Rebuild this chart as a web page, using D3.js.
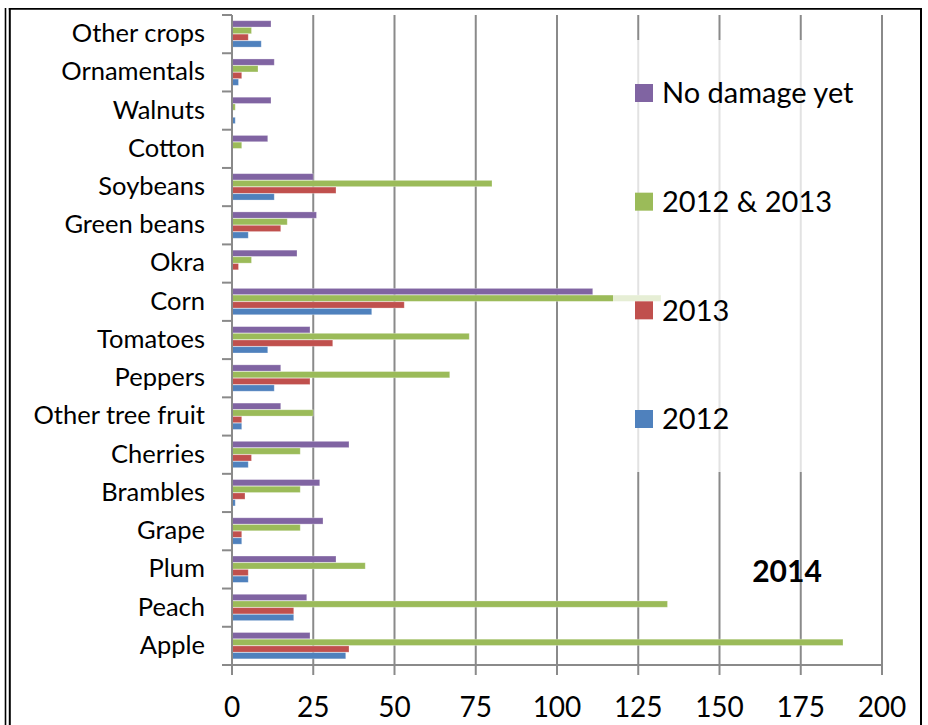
<!DOCTYPE html>
<html>
<head>
<meta charset="utf-8">
<script src="https://cdn.jsdelivr.net/npm/d3@7"></script>
<style>
  body { margin: 0; background: #fff; }
  svg { display: block; font-family: Lato, 'Open Sans', sans-serif; }
</style>
</head>
<body>
<svg id="chart" width="928" height="725"></svg>
<script>
// crops, listed top to bottom as in the chart
const categories = ['Other crops', 'Ornamentals', 'Walnuts', 'Cotton', 'Soybeans',
  'Green beans', 'Okra', 'Corn', 'Tomatoes', 'Peppers', 'Other tree fruit',
  'Cherries', 'Brambles', 'Grape', 'Plum', 'Peach', 'Apple'];
const noDamageYet = [12, 13, 12, 11, 25, 26, 20, 111, 24, 15, 15, 36, 27, 28, 32, 23, 24];
const both2012and2013 = [6, 8, 1, 3, 80, 17, 6, 132, 73, 67, 25, 21, 21, 21, 41, 134, 188];
const only2013 = [5, 3, 0, 0, 32, 15, 2, 53, 31, 24, 3, 6, 4, 3, 5, 19, 36];
const only2012 = [9, 2, 1, 0, 13, 5, 0, 43, 11, 13, 3, 5, 1, 3, 5, 19, 35];
const seriesNames = ['No damage yet', '2012 & 2013', '2013', '2012'];
const seriesColors = ['#8064A2', '#9BBB59', '#C0504D', '#4F81BD'];
const xTicks = [0, 25, 50, 75, 100, 125, 150, 175, 200];
const title = '2014';

const series = [noDamageYet, both2012and2013, only2013, only2012];
const svg = d3.select('#chart');
const gridColor = '#8a8a8a';

const x = d3.scaleLinear().domain([0, 200]).range([232, 882]);
const y = d3.scaleBand().domain(categories).range([15, 665])
  .paddingInner(0.3).paddingOuter(0.15);
const inner = d3.scaleBand().domain(seriesNames).range([0, y.bandwidth()]);

// vertical gridlines (the one at 0 is the axis)
svg.append('g').selectAll('line').data(xTicks.slice(1)).join('line')
  .attr('x1', d => x(d)).attr('x2', d => x(d))
  .attr('y1', 15).attr('y2', 665)
  .attr('stroke', gridColor).attr('stroke-width', 2);

// bars
const rows = categories.map((c, i) => ({c, vals: series.map(s => s[i])}));
svg.append('g').selectAll('g').data(rows).join('g')
  .attr('transform', d => `translate(0,${y(d.c)})`)
  .selectAll('rect').data(d => d.vals.map((v, j) => ({v, j}))).join('rect')
  .attr('x', x(0))
  .attr('y', d => inner(seriesNames[d.j]))
  .attr('width', d => x(d.v) - x(0))
  .attr('height', inner.bandwidth() - 0.4)
  .attr('fill', d => seriesColors[d.j])
  .attr('stroke', '#fff').attr('stroke-opacity', 0.35).attr('stroke-width', 0.8);

// left axis: line plus tick marks between categories
const step = y.step();
const first = y(categories[0]) - (step - y.bandwidth()) / 2;
const bounds = d3.range(categories.length + 1).map(i => first + i * step);
const axisG = svg.append('g').attr('stroke', gridColor).attr('stroke-width', 2);
axisG.append('line').attr('x1', x(0)).attr('x2', x(0)).attr('y1', 15).attr('y2', 665);
axisG.selectAll('.yt').data(bounds).join('line').attr('class', 'yt')
  .attr('x1', x(0) - 10).attr('x2', x(0)).attr('y1', d => d).attr('y2', d => d);
axisG.append('line').attr('x1', x(0)).attr('x2', x(200)).attr('y1', 665).attr('y2', 665);
axisG.selectAll('.xt').data(xTicks).join('line').attr('class', 'xt')
  .attr('x1', d => x(d)).attr('x2', d => x(d)).attr('y1', 665).attr('y2', 675);

svg.append('g').selectAll('text').data(categories).join('text')
  .attr('x', 205).attr('y', d => y(d) + y.bandwidth() / 2 - 1)
  .attr('text-anchor', 'end').attr('dy', '0.35em')
  .attr('font-size', 25.5).text(d => d);

svg.append('g').selectAll('text').data(xTicks).join('text')
  .attr('x', d => x(d)).attr('y', 717)
  .attr('text-anchor', 'middle').attr('font-size', 28).text(d => d);

// legend sits on a translucent white box over the plot
const legend = svg.append('g');
legend.append('rect').attr('x', 613).attr('y', 40).attr('width', 257).attr('height', 432)
  .attr('fill', '#fff').attr('fill-opacity', 0.75);
const ly = d3.scalePoint().domain(seriesNames).range([93, 419]);
legend.selectAll('rect.key').data(seriesNames).join('rect').attr('class', 'key')
  .attr('x', 635).attr('y', d => ly(d) - 9).attr('width', 18).attr('height', 18)
  .attr('fill', (d, i) => seriesColors[i]);
legend.selectAll('text').data(seriesNames).join('text')
  .attr('x', 662).attr('y', d => ly(d)).attr('dy', '0.36em')
  .attr('font-size', 29).text(d => d);

svg.append('text').attr('x', 787).attr('y', 582).attr('text-anchor', 'middle')
  .attr('font-size', 30).attr('font-weight', 'bold').text(title);

// double frame on the left, single frame top and right
const frame = svg.append('g').attr('stroke', '#000').attr('fill', 'none');
frame.append('line').attr('x1', 5.5).attr('x2', 5.5).attr('y1', 8).attr('y2', 725).attr('stroke-width', 1.6);
frame.append('line').attr('x1', 9.8).attr('x2', 9.8).attr('y1', 8).attr('y2', 725).attr('stroke-width', 2);
frame.append('line').attr('x1', 8.8).attr('x2', 922).attr('y1', 8.8).attr('y2', 8.8).attr('stroke-width', 1.8);
frame.append('line').attr('x1', 921).attr('x2', 921).attr('y1', 8).attr('y2', 725).attr('stroke-width', 2);
</script>
</body>
</html>
